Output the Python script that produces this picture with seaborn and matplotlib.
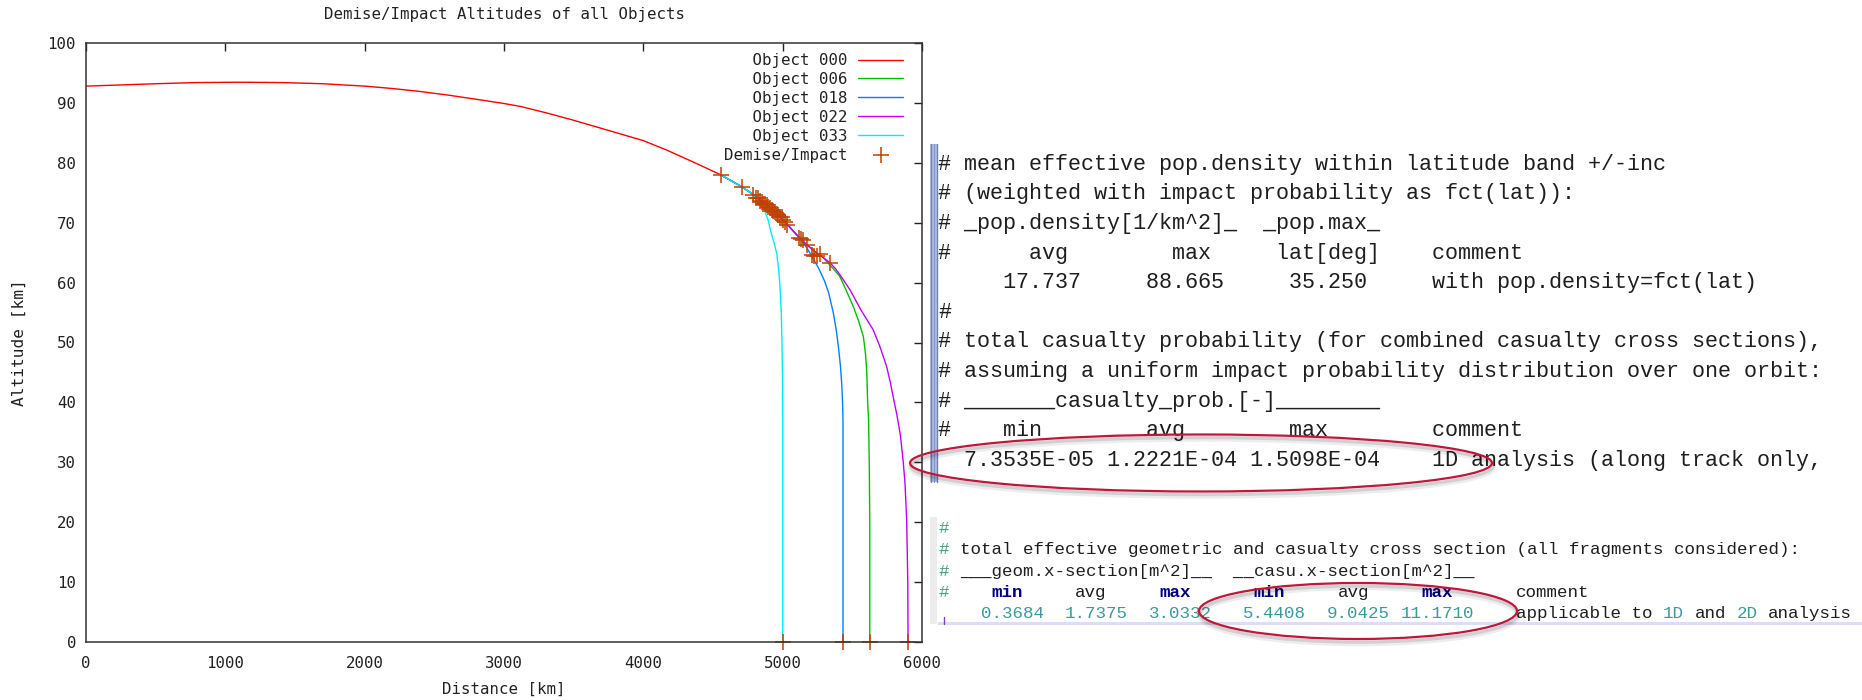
import matplotlib
matplotlib.use("Agg")
import matplotlib.pyplot as plt
from matplotlib.patches import Ellipse, Rectangle
import pandas as pd
import seaborn as sns

# ---------------------------------------------------------------- data
objects = ["Object 000", "Object 006", "Object 018", "Object 022", "Object 033"]
colors = ["#ff0000", "#00c000", "#0080ff", "#c000ff", "#00eeee"]

# main body until break-up
dist_000 = [0, 250, 500, 800, 1100, 1400, 1700, 2000, 2200, 2400, 2600, 2830,
            3000, 3120, 3310, 3500, 3780, 4000, 4170, 4380, 4555]
alt_000 = [92.8, 93.0, 93.2, 93.4, 93.45, 93.4, 93.2, 92.8, 92.4, 91.9, 91.3, 90.5,
           89.9, 89.4, 88.3, 87.1, 85.2, 83.7, 82.1, 79.9, 78.0]

dist_006 = [4555, 4706, 4790, 4850, 4900, 4970, 5030, 5080, 5120, 5170, 5230, 5290,
            5320, 5360, 5411, 5460, 5507, 5545, 5579, 5595, 5603, 5610, 5617, 5622,
            5625, 5625]
alt_006 = [78.0, 76.0, 74.7, 73.6, 72.7, 71.3, 69.8, 68.5, 67.5, 66.4, 65.2, 64.2,
           63.4, 62.4, 61.0, 58.5, 56.0, 53.6, 51.0, 48.0, 45.4, 40.0, 37.0, 29.0,
           20.0, 0.0]

dist_018 = [4555, 4706, 4790, 4850, 4900, 4970, 5030, 5080, 5120, 5170, 5220, 5260,
            5300, 5330, 5364, 5385, 5400, 5415, 5424, 5430, 5433, 5433]
alt_018 = [78.0, 76.0, 74.7, 73.6, 72.7, 71.3, 69.8, 68.5, 67.5, 65.9, 64.0, 62.3,
           60.3, 58.3, 54.9, 52.0, 49.3, 46.0, 43.0, 40.0, 37.0, 0.0]

dist_022 = [4555, 4706, 4790, 4850, 4900, 4970, 5030, 5080, 5120, 5170, 5230, 5290,
            5340, 5380, 5420, 5483, 5560, 5650, 5700, 5746, 5772, 5796, 5820, 5845,
            5864, 5878, 5890, 5898, 5900]
alt_022 = [78.0, 76.0, 74.7, 73.6, 72.7, 71.3, 69.8, 68.5, 67.5, 66.4, 65.2, 64.2,
           63.3, 62.3, 61.0, 58.8, 55.5, 52.1, 49.2, 46.0, 43.4, 40.6, 37.9, 34.5,
           30.4, 26.5, 20.4, 10.0, 0.0]

dist_033 = [4555, 4706, 4790, 4837, 4870, 4895, 4915, 4940, 4957, 4972, 4981, 4990,
            4995, 4999, 5000, 5000]
alt_033 = [78.0, 76.0, 74.7, 73.4, 72.0, 70.5, 68.5, 66.5, 64.9, 62.0, 59.3, 55.0,
           50.0, 44.0, 37.0, 0.0]

# demise / impact points
demise_dist = [4555, 4706, 4790, 4810, 4825, 4838, 4849, 4860, 4873, 4885, 4897, 4909,
               4921, 4933, 4945, 4957, 4969, 4981, 4993, 5005, 5017, 5033, 5120, 5135,
               5148, 5172, 5208, 5226, 5244, 5268, 5340,
               5000, 5433, 5625, 5900]
demise_alt = [78.0, 76.0, 74.6, 74.2, 74.1, 73.7, 73.5, 73.2, 73.2, 72.9, 72.7, 72.4,
              72.2, 72.0, 71.8, 71.5, 71.3, 71.0, 71.0, 70.5, 70.2, 69.6, 67.4, 67.3,
              67.1, 66.3, 64.6, 64.5, 64.4, 64.8, 63.3,
              0.0, 0.0, 0.0, 0.0]

# report values
pop_density = [17.737, 88.665]   # avg, max [1/km^2]
pop_max_lat = 35.250             # [deg]
casualty_prob = [7.3535e-05, 1.2221e-04, 1.5098e-04]   # min, avg, max
geom_xsec = [0.3684, 1.7375, 3.0332]                   # min, avg, max [m^2]
casu_xsec = [5.4408, 9.0425, 11.1710]                  # min, avg, max [m^2]

# ---------------------------------------------------------------- figure
W, H, DPI = 1862, 700, 100
sns.set_style("white")
plt.rcParams["font.family"] = ["DejaVu Sans Mono", "DejaVu Sans"]

fig = plt.figure(figsize=(W / DPI, H / DPI), dpi=DPI)
fig.patch.set_facecolor("white")


def fx(x):
    return x / W


def fy(y):
    return 1 - y / H


ax = fig.add_axes([fx(86), fy(642), (922 - 86) / W, (642 - 43) / H])

traj = pd.concat(
    [pd.DataFrame({"object": name, "distance": d, "altitude": a})
     for name, d, a in zip(objects,
                           [dist_000, dist_006, dist_018, dist_022, dist_033],
                           [alt_000, alt_006, alt_018, alt_022, alt_033])],
    ignore_index=True)

sns.lineplot(data=traj, x="distance", y="altitude", hue="object", hue_order=objects,
             palette=dict(zip(objects, colors)), sort=False, estimator=None,
             linewidth=1.0, legend=False, ax=ax)

demise = pd.DataFrame({"distance": demise_dist, "altitude": demise_alt})
sns.scatterplot(data=demise, x="distance", y="altitude", marker="+", s=117,
                color="#c04000", linewidth=1.1, clip_on=False, zorder=2.2,
                legend=False, ax=ax)

ax.set_xlim(0, 6000)
ax.set_ylim(0, 100)
ax.set_xticks(range(0, 6001, 1000))
ax.set_yticks(range(0, 101, 10))
ax.tick_params(direction="in", length=5.8, width=1.0, top=True, right=True,
               labelsize=11.3, colors="#222222")
ax.tick_params(axis="x", pad=10)
ax.tick_params(axis="y", pad=7.2)
for sp in ax.spines.values():
    sp.set_color("#333333")
    sp.set_linewidth(1.1)

ax.set_xlabel("Distance [km]", fontsize=11.3, color="#222222", va="center")
ax.xaxis.set_label_coords(0.5, -(689 - 642) / 599)
ax.set_ylabel("Altitude [km]", fontsize=11.6, color="#222222", va="center")
ax.yaxis.set_label_coords(-(86 - 19) / 836, 0.5)
fig.text(fx(504), fy(15), "Demise/Impact Altitudes of all Objects", ha="center",
         va="center", fontsize=11.3, color="#222222")

handles = list(ax.lines[:len(objects)]) + [ax.collections[0]]
labels = [o.rjust(13) for o in objects] + ["Demise/Impact"]
ax.legend(handles, labels, loc="upper right",
          bbox_to_anchor=((903 - 86) / 836, (642 - 53) / 599),
          markerfirst=False, frameon=False, borderpad=0, borderaxespad=0,
          handlelength=2.85, handletextpad=0.7, labelspacing=0.25,
          prop={"family": "DejaVu Sans Mono", "size": 11.3}, labelcolor="#222222")

# ---------------------------------------------------------------- report text
MONO = "Liberation Mono"
ADV = 0.6001  # advance width of one character, in em


def text_line(tokens, y, size, x0):
    cw = ADV * size * DPI / 72.0
    base = y + 0.3 * size * DPI / 72.0
    for col, s, color, weight in tokens:
        fig.text(fx(x0 + col * cw), fy(base), s, ha="left", va="baseline",
                 family=MONO, fontsize=size, color=color, fontweight=weight)


INK = "#1e1e1e"
TEAL = "#3a9a9a"
HASH = "#4a9a8a"
NAVY = "#000080"

# upper block: population density and casualty probability
block1 = [
    "# mean effective pop.density within latitude band +/-inc",
    "# (weighted with impact probability as fct(lat)):",
    "# _pop.density[1/km^2]_  _pop.max_",
    "#" + " " * 6 + "avg" + " " * 8 + "max" + " " * 5 + "lat[deg]" + " " * 4 + "comment",
    " " * 5 + f"{pop_density[0]:.3f}" + " " * 5 + f"{pop_density[1]:.3f}" + " " * 5
    + f"{pop_max_lat:.3f}" + " " * 5 + "with pop.density=fct(lat)",
    "#",
    "# total casualty probability (for combined casualty cross sections),",
    "# assuming a uniform impact probability distribution over one orbit:",
    "# " + "_" * 7 + "casualty_prob.[-]" + "_" * 8,
    "#" + " " * 4 + "min" + " " * 8 + "avg" + " " * 8 + "max" + " " * 8 + "comment",
    "  " + " ".join(f"{v:.4E}" for v in casualty_prob) + " " * 4
    + "1D analysis (along track only,",
]
size1 = 13.1 * 72.0 / (ADV * DPI)
for i, line in enumerate(block1):
    text_line([(0, line, INK, "normal")], 163.3 + 29.6 * i, size1, 938)

# blue margin bar of the upper block
fig.patches.append(Rectangle((fx(930), fy(482)), 8 / W, (482 - 144) / H,
                             transform=fig.transFigure, facecolor="#b4c2e2",
                             edgecolor="none"))
for xb, cb in [(931, "#6d83b5"), (934.5, "#8596c4"), (937.5, "#6d83b5")]:
    fig.add_artist(plt.Line2D([fx(xb), fx(xb)], [fy(144), fy(482)],
                              transform=fig.transFigure, color=cb, linewidth=1.0))

# lower block: cross sections
size2 = 10.5 * 72.0 / (ADV * DPI)
fig.patches.append(Rectangle((fx(930), fy(624)), 7 / W, (624 - 517) / H,
                             transform=fig.transFigure, facecolor="#ececec",
                             edgecolor="none"))
fig.patches.append(Rectangle((fx(938), fy(625)), (W - 938) / W, 3.5 / H,
                             transform=fig.transFigure, facecolor="#dedcf6",
                             edgecolor="none"))
fig.add_artist(plt.Line2D([fx(944), fx(944)], [fy(617), fy(624)],
                          transform=fig.transFigure, color="#8040c0", linewidth=1.0))

g = [f"{v:.4f}" for v in geom_xsec]
c = [f"{v:.4f}" for v in casu_xsec]
block2 = [
    [(0, "#", HASH, "normal")],
    [(0, "#", HASH, "normal"),
     (2, "total effective geometric and casualty cross section (all fragments considered):",
      INK, "normal")],
    [(0, "#", HASH, "normal"),
     (2, "___geom.x-section[m^2]__  __casu.x-section[m^2]__", INK, "normal")],
    [(0, "#", HASH, "normal"), (5, "min", NAVY, "bold"), (13, "avg", INK, "normal"),
     (21, "max", NAVY, "bold"), (30, "min", NAVY, "bold"), (38, "avg", INK, "normal"),
     (46, "max", NAVY, "bold"), (55, "comment", INK, "normal")],
    [(4, g[0], TEAL, "normal"), (12, g[1], TEAL, "normal"), (20, g[2], TEAL, "normal"),
     (29, c[0], TEAL, "normal"), (37, c[1], TEAL, "normal"), (44, c[2], TEAL, "normal"),
     (55, "applicable to", INK, "normal"), (69, "1D", TEAL, "normal"),
     (72, "and", INK, "normal"), (76, "2D", TEAL, "normal"),
     (79, "analysis", INK, "normal")],
]
for i, toks in enumerate(block2):
    text_line(toks, 527.5 + 21.4 * i, size2, 938.7)

# highlight ellipses with a soft drop shadow
for cx, cy, w, h in [(1201, 463, 582, 57), (1358, 611, 318, 56)]:
    for off, alpha, lw in [(4.5, 0.07, 4.0), (3.0, 0.12, 2.5)]:
        fig.patches.append(Ellipse((fx(cx + 1), fy(cy + off)), w / W, h / H,
                                   transform=fig.transFigure, fill=False,
                                   edgecolor=(0, 0, 0, alpha), linewidth=lw, zorder=5))
    fig.patches.append(Ellipse((fx(cx), fy(cy)), w / W, h / H,
                               transform=fig.transFigure, fill=False,
                               edgecolor="#c0163c", linewidth=1.6, zorder=6))

fig.savefig("out.png", dpi=DPI, facecolor="white")
